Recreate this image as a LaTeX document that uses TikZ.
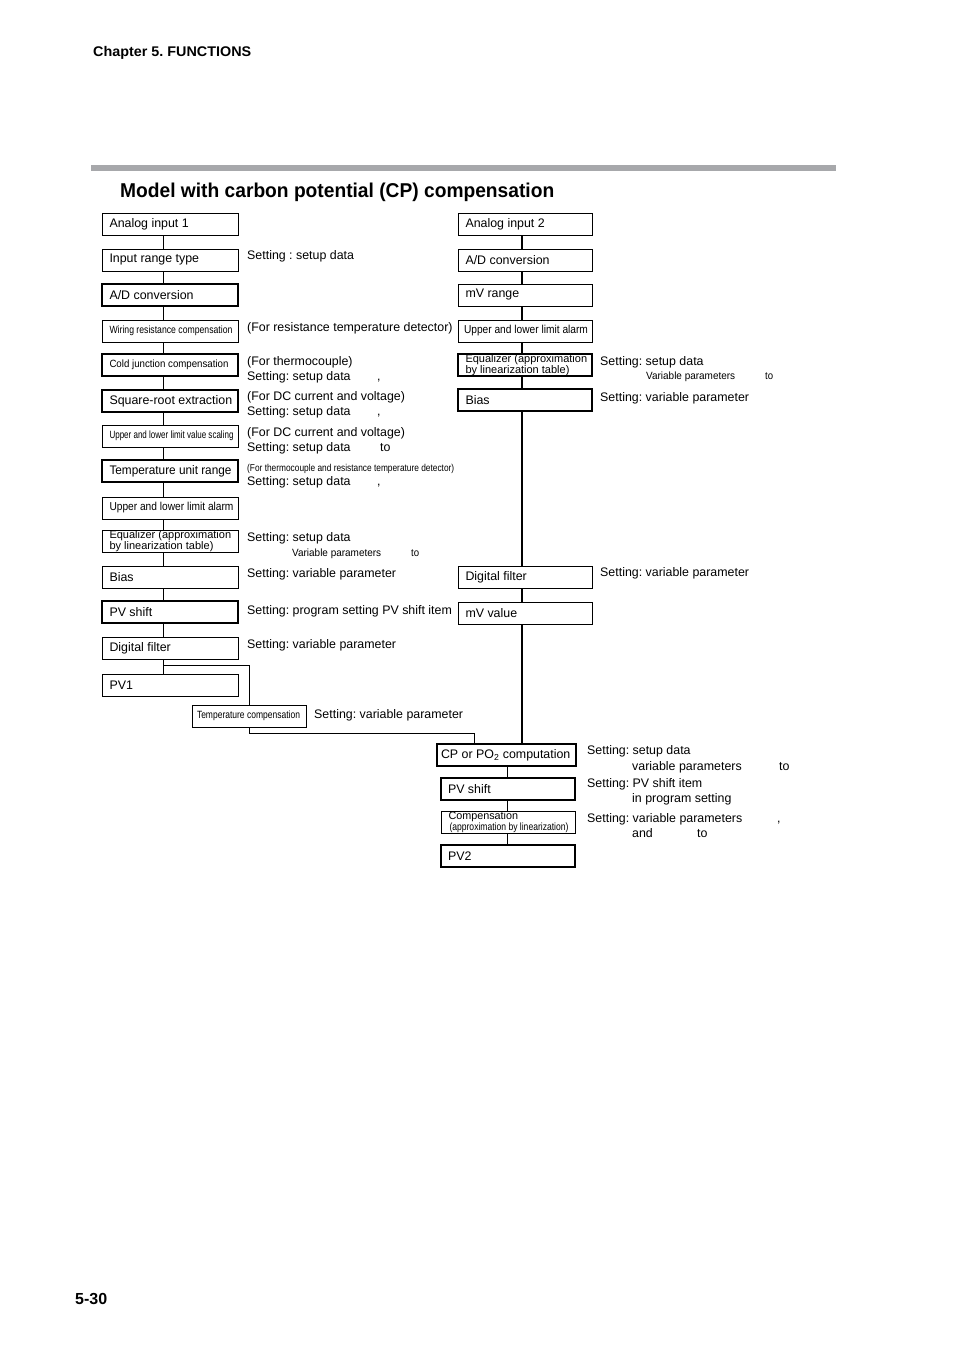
\documentclass[tikz,border=0pt]{standalone}
\usepackage{fontspec}
\setmainfont{Liberation Sans}
\usepackage{graphicx}
\newcommand\fs{\fontsize{12.4}{15}\selectfont}
\newcommand\smf{\fontsize{10.5}{12}\selectfont}
\newcommand\fitw[2]{\resizebox{#1}{\height}{#2}}
\newcommand\bx[2]{\makebox[#1][l]{#2}}
\newcommand\two[3]{\vbox{\baselineskip=#1\hbox{#2}\hbox{#3}}}
\definecolor{bargray}{HTML}{A7A8AB}
\begin{document}
\frenchspacing
\begin{tikzpicture}[x=1pt,y=-1pt,
  box/.style={draw, line width=1pt, anchor=north west, minimum height=22pt,
    inner xsep=7.5pt, inner ysep=0pt, font=\fs, outer sep=0pt},
  bbox/.style={box, line width=1.6pt},
  lbl/.style={anchor=base west, inner sep=0pt, font=\fs},
  slbl/.style={anchor=base west, inner sep=0pt, font=\smf},
  thinc/.style={line width=0.9pt},
  thickc/.style={line width=2.2pt}]
\useasboundingbox (0,0) rectangle (954,1351);

% header
\node[anchor=base west, inner sep=0pt, font=\bfseries\fontsize{14}{16}\selectfont] (hdr) at (93,57) {\fitw{158pt}{Chapter 5. FUNCTIONS}};
\fill[bargray] (91,165) rectangle (836,171);
\node[anchor=base west, inner sep=0pt, font=\bfseries\fontsize{20}{22}\selectfont] (title) at (120,197) {\fitw{434pt}{Model with carbon potential (CP) compensation}};
\node[anchor=base west, inner sep=0pt, font=\bfseries\fontsize{16}{18}\selectfont] (pg) at (75,1304) {5-30};

\coordinate (L) at (163,0);
\coordinate (R) at (522,0);
\coordinate (B) at (507,0);

% left column
\node[box] (l1) at (102,213) {\bx{121pt}{Analog input 1}};
\node[box] (l2) at (102,249) {\bx{121pt}{Input range type}};
\node[box,line width=1.2pt] (l3) at (102,284) {\bx{121pt}{A/D conversion}};
\node[box] (l4) at (102,320) {\bx{121pt}{\fitw{123pt}{\smf Wiring resistance compensation}}};
\node[bbox] (l5) at (102,354) {\bx{121pt}{\fitw{119pt}{\smf Cold junction compensation}}};
\node[box,line width=1.3pt] (l6) at (102,390) {\bx{121pt}{Square-root extraction}};
\node[box] (l7) at (102,425) {\bx{121pt}{\fitw{124pt}{\smf Upper and lower limit value scaling}}};
\node[bbox] (l8) at (102,460) {\bx{121pt}{\fitw{122pt}{Temperature unit range}}};
\node[box] (l9) at (102,497) {\bx{121pt}{\fitw{124pt}{\fontsize{11.5}{12}\selectfont Upper and lower limit alarm}}};
\node[box,font=\fontsize{11}{8.5}\selectfont] (l10) at (102,530) {\bx{121pt}{\two{8.5pt}{Equalizer (approximation}{by linearization table)}}};
\node[box] (l11) at (102,566) {\bx{121pt}{Bias}};
\node[bbox] (l12) at (102,601) {\bx{121pt}{PV shift}};
\node[box] (l13) at (102,637) {\bx{121pt}{Digital filter}};
\node[box] (l14) at (102,674) {\bx{121pt}{PV1}};
\node[box,inner xsep=5pt] (tc) at (192,705) {\bx{104pt}{\fitw{103pt}{\smf Temperature compensation}}};

\foreach \a/\b in {l1/l2,l2/l3,l3/l4,l4/l5,l5/l6,l6/l7,l7/l8,l8/l9,l9/l10,l10/l11,l11/l12,l12/l13,l13/l14}
  \draw[thinc] (\a.south -| L) -- (\b.north -| L);

% right column
\node[box] (r1) at (458,213) {\bx{119pt}{Analog input 2}};
\node[box] (r2) at (458,249) {\bx{119pt}{A/D conversion}};
\node[box] (r3) at (458,284) {\bx{119pt}{mV range}};
\node[box,inner xsep=6pt] (r4) at (458,320) {\bx{122pt}{\fitw{124pt}{\fontsize{11.5}{12}\selectfont Upper and lower limit alarm}}};
\node[bbox,font=\fontsize{11}{8.5}\selectfont] (r5) at (458,354) {\bx{119pt}{\two{8.5pt}{Equalizer (approximation}{by linearization table)}}};
\node[bbox] (r6) at (458,389) {\bx{119pt}{Bias}};
\node[box] (r7) at (458,566) {\bx{119pt}{Digital filter}};
\node[box] (r8) at (458,602) {\bx{119pt}{mV value}};

\foreach \a/\b in {r1/r2,r2/r3,r3/r4,r4/r5,r5/r6,r6/r7,r7/r8}
  \draw[thickc] (\a.south -| R) -- (\b.north -| R);

% bottom column
\node[bbox,inner xsep=4pt] (cp) at (437,744) {\bx{131pt}{CP or PO\textsubscript{2} computation}};
\node[bbox,inner xsep=7pt] (b2) at (441,778) {\bx{120pt}{PV shift}};
\node[box,inner xsep=5pt] (b3) at (441,811) {\bx{124pt}{\two{9.5pt}{\hspace*{2.5pt}\fontsize{10.8}{9.5}\selectfont Compensation}{\hspace*{3.5pt}\fitw{119pt}{\fontsize{10.5}{9.5}\selectfont(approximation by linearization)}}}};
\node[bbox,inner xsep=7pt] (b4) at (441,845) {\bx{120pt}{PV2}};

\draw[thickc] (r8.south -| R) -- (cp.north -| R);
\foreach \a/\b in {cp/b2,b2/b3,b3/b4}
  \draw[thinc] (\a.south -| B) -- (\b.north -| B);

% branch to temperature compensation
\coordinate (j1) at (163,665);
\coordinate (j2) at (474,733);
\draw[thinc] (j1) -| (tc.north);
\draw[thinc] (tc.south) |- (j2) -- (j2 |- cp.north);

% left labels
\node[lbl] (t1) at (247,259) {Setting : setup data};
\node[lbl] (t2) at (247,331) {(For resistance temperature detector)};
\node[lbl] (t3) at (247,365) {(For thermocouple)};
\node[lbl] (t3b) at (247,380) {Setting: setup data};
\node[lbl] (t3c) at (377,380) {,};
\node[lbl] (t4) at (247,400) {(For DC current and voltage)};
\node[lbl] (t4b) at (247,415) {Setting: setup data};
\node[lbl] (t4c) at (377,415) {,};
\node[lbl] (t5) at (247,436) {(For DC current and voltage)};
\node[lbl] (t5b) at (247,451) {Setting: setup data};
\node[lbl] (t5c) at (380,451) {to};
\node[slbl] (t6) at (247,471) {\fitw{207pt}{\fontsize{10}{12}\selectfont(For thermocouple and resistance temperature detector)}};
\node[lbl] (t6b) at (247,485) {Setting: setup data};
\node[lbl] (t6c) at (377,485) {,};
\node[lbl] (t7) at (247,541) {Setting: setup data};
\node[slbl] (t7b) at (292,556) {\fitw{89pt}{\smf Variable parameters}};
\node[slbl] (t7c) at (411,556) {\fitw{8pt}{\smf to}};
\node[lbl] (t8) at (247,577) {Setting: variable parameter};
\node[lbl] (t9) at (247,614) {Setting: program setting PV shift item};
\node[lbl] (t10) at (247,648) {Setting: variable parameter};
\node[lbl] (t11) at (314,718) {Setting: variable parameter};

% right labels
\node[lbl] (u1) at (600,365) {Setting: setup data};
\node[slbl] (u1b) at (646,379) {\fitw{89pt}{\smf Variable parameters}};
\node[slbl] (u1c) at (765,379) {\fitw{8pt}{\smf to}};
\node[lbl] (u2) at (600,401) {Setting: variable parameter};
\node[lbl] (u3) at (600,576) {Setting: variable parameter};

% bottom labels
\node[lbl] (v1) at (587,754) {Setting: setup data};
\node[lbl] (v1b) at (632,770) {variable parameters};
\node[lbl] (v1c) at (779,770) {to};
\node[lbl] (v2) at (587,787) {Setting: PV shift item};
\node[lbl] (v2b) at (632,802) {in program setting};
\node[lbl] (v3) at (587,822) {Setting: variable parameters};
\node[lbl] (v3c) at (777,822) {,};
\node[lbl] (v3b) at (632,837) {and};
\node[lbl] (v3d) at (697,837) {to};
\end{tikzpicture}
\end{document}
